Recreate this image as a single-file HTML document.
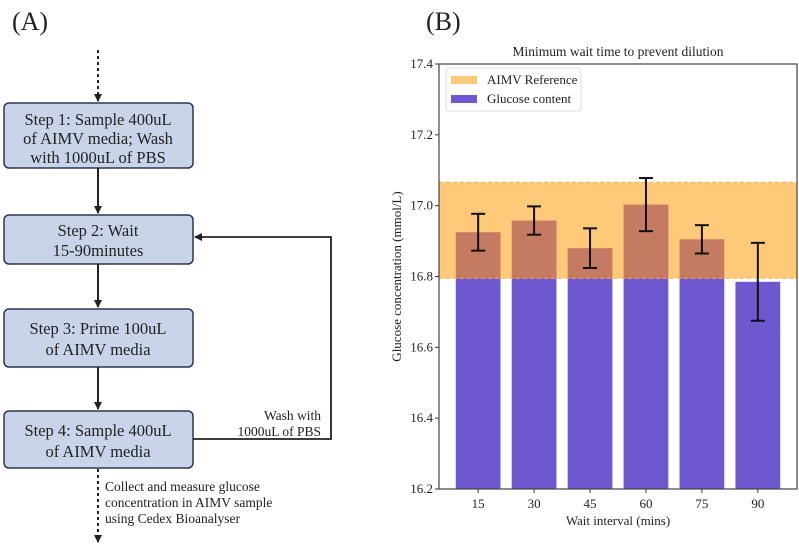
<!DOCTYPE html>
<html><head><meta charset="utf-8"><style>
body{margin:0;background:#fff;}
svg{display:block;}
svg text{font-family:"Liberation Serif","Times New Roman",Times,serif;}
</style></head><body>
<svg id="fig" width="799" height="544" viewBox="0 0 799 544">
<defs><marker id="ah" markerWidth="8" markerHeight="8" refX="7" refY="4" orient="auto" markerUnits="userSpaceOnUse"><path d="M0,0 L8,4 L0,8 z" fill="#222"/></marker></defs>
<g>
<text x="12" y="30" font-size="26" fill="#222">(A)</text>
<line x1="98" y1="50" x2="98" y2="101" stroke="#222" stroke-width="2" stroke-dasharray="3,3" marker-end="url(#ah)"/>
<g><rect x="4" y="103" width="189" height="65" rx="5" fill="#c9d4e8" stroke="#2b3650" stroke-width="1.5"/>
<text x="98" y="125" font-size="16.5" text-anchor="middle" fill="#222">Step 1: Sample 400uL</text>
<text x="98" y="144" font-size="16.5" text-anchor="middle" fill="#222">of AIMV media; Wash</text>
<text x="98" y="163" font-size="16.5" text-anchor="middle" fill="#222">with 1000uL of PBS</text></g>
<line x1="98" y1="168" x2="98" y2="213" stroke="#222" stroke-width="2" marker-end="url(#ah)"/>
<g><rect x="4" y="215" width="189" height="49" rx="5" fill="#c9d4e8" stroke="#2b3650" stroke-width="1.5"/>
<text x="98" y="236" font-size="16.5" text-anchor="middle" fill="#222">Step 2: Wait</text>
<text x="98" y="256" font-size="16.5" text-anchor="middle" fill="#222">15-90minutes</text></g>
<line x1="98" y1="264" x2="98" y2="307" stroke="#222" stroke-width="2" marker-end="url(#ah)"/>
<g><rect x="4" y="309" width="189" height="58" rx="5" fill="#c9d4e8" stroke="#2b3650" stroke-width="1.5"/>
<text x="98" y="334" font-size="16.5" text-anchor="middle" fill="#222">Step 3: Prime 100uL</text>
<text x="98" y="355" font-size="16.5" text-anchor="middle" fill="#222">of AIMV media</text></g>
<line x1="98" y1="367" x2="98" y2="409" stroke="#222" stroke-width="2" marker-end="url(#ah)"/>
<g><rect x="4" y="411" width="189" height="57" rx="5" fill="#c9d4e8" stroke="#2b3650" stroke-width="1.5"/>
<text x="98" y="436" font-size="16.5" text-anchor="middle" fill="#222">Step 4: Sample 400uL</text>
<text x="98" y="457" font-size="16.5" text-anchor="middle" fill="#222">of AIMV media</text></g>
<polyline points="193,439 331,439 331,237 195,237" fill="none" stroke="#222" stroke-width="1.8" marker-end="url(#ah)"/>
<text x="321" y="420" font-size="13.5" text-anchor="end" fill="#222">Wash with</text>
<text x="321" y="436" font-size="13.5" text-anchor="end" fill="#222">1000uL of PBS</text>
<line x1="98" y1="469" x2="98" y2="542" stroke="#222" stroke-width="2" stroke-dasharray="3,3" marker-end="url(#ah)"/>
<g font-size="13.5" fill="#222">
<text x="105" y="491">Collect and measure glucose</text>
<text x="105" y="507">concentration in AIMV sample</text>
<text x="105" y="523">using Cedex Bioanalyser</text></g>
</g>
<text x="426" y="30" font-size="26" fill="#222">(B)</text>
<text x="618" y="56" font-size="13.5" text-anchor="middle" fill="#222">Minimum wait time to prevent dilution</text>
<g id="chart"></g>
</svg>
<script>
const categories=["15","30","45","60","75","90"];
const values=[16.925,16.958,16.880,17.003,16.905,16.785];
const errors=[0.052,0.040,0.056,0.075,0.040,0.110];
const yTicks=[16.2,16.4,16.6,16.8,17.0,17.2,17.4];
const refBand=[16.795,17.066];
const L=439,R=797,T=64,B=489,yMin=16.2,yMax=17.4;
const NS="http://www.w3.org/2000/svg";
const g=document.getElementById('chart');
function y(v){return B-(v-yMin)/(yMax-yMin)*(B-T);}
const step=(R-L)/(categories.length+0.4);
function x(i){return L+step*(i+0.7);}
const bw=step*0.8;
function mk(t,a,p){const e=document.createElementNS(NS,t);for(const k in a)e.setAttribute(k,a[k]);(p||g).appendChild(e);return e;}
categories.forEach((c,i)=>{
 const r=mk('rect',{x:x(i)-bw/2,y:y(values[i]),width:bw,height:B-y(values[i]),fill:'#6f57cf'});
 
 
});
const band=mk('rect',{x:L,y:y(refBand[1]),width:R-L,height:y(refBand[0])-y(refBand[1]),fill:'#fec978'});


categories.forEach((c,i)=>{
 const hi=Math.min(values[i],refBand[1]);
 if(values[i]>refBand[0]){
  const o=mk('rect',{x:x(i)-bw/2,y:y(hi),width:bw,height:y(refBand[0])-y(hi),fill:'#c57b62'});
  
  
 }
});
[refBand[0],refBand[1]].forEach(v=>{mk('line',{x1:L,x2:R,y1:y(v),y2:y(v),stroke:'#f5b04a','stroke-dasharray':'4,3','stroke-width':1});});
categories.forEach((c,i)=>{
 const eg=mk('g',{stroke:'#111','stroke-width':2});
 
 
 const t=y(values[i]+errors[i]),b=y(values[i]-errors[i]);
 mk('line',{x1:x(i),x2:x(i),y1:t,y2:b},eg);
 mk('line',{x1:x(i)-7,x2:x(i)+7,y1:t,y2:t},eg);
 mk('line',{x1:x(i)-7,x2:x(i)+7,y1:b,y2:b},eg);
 const tl=mk('text',{x:x(i),y:B+19,'font-size':13,'text-anchor':'middle',fill:'#222'});
 tl.textContent=c;
 
 
 mk('line',{x1:x(i),x2:x(i),y1:B,y2:B+4,stroke:'#333'});
});
yTicks.forEach(v=>{
 mk('line',{x1:L-4,x2:L,y1:y(v),y2:y(v),stroke:'#333'});
 const t=mk('text',{x:L-6,y:y(v)+4,'font-size':13,'text-anchor':'end',fill:'#222'});
 t.textContent=v.toFixed(1);
 
 
});
const fr=mk('rect',{x:L,y:T,width:R-L,height:B-T,fill:'none',stroke:'#444','stroke-width':1.2});


const xl=mk('text',{x:(L+R)/2,y:525,'font-size':13,'text-anchor':'middle',fill:'#222'});
xl.textContent='Wait interval (mins)';


const yl=mk('text',{x:0,y:0,'font-size':13,'text-anchor':'middle',fill:'#222',transform:'translate(401,'+((T+B)/2)+') rotate(-90)'});
yl.textContent='Glucose concentration (mmol/L)';


const lg=mk('g',{});


mk('rect',{x:446,y:68,width:135,height:43,rx:3,fill:'#fff',stroke:'#ddd'},lg);
mk('rect',{x:451,y:76,width:26,height:8,fill:'#fec978'},lg);
mk('rect',{x:451,y:95,width:26,height:8,fill:'#6f57cf'},lg);
const l1=mk('text',{x:487,y:84,'font-size':13,fill:'#222'},lg);l1.textContent='AIMV Reference';
const l2=mk('text',{x:487,y:103,'font-size':13,fill:'#222'},lg);l2.textContent='Glucose content';
</script>
</body></html>
